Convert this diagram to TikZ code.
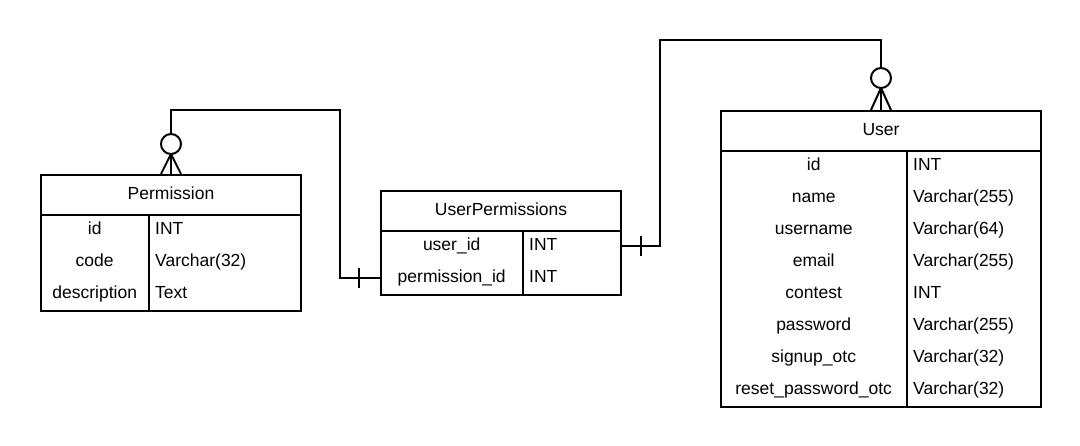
\documentclass[tikz,border=0pt]{standalone}
\usepackage{fontspec}
\setmainfont{Liberation Sans}
\begin{document}
\begin{tikzpicture}[x=1pt,y=-1pt,
  font=\fontsize{17.5}{21}\selectfont,
  ln/.style={line width=2pt, draw=black},
  txt/.style={text height=12.5pt, text depth=4pt},
  hdr/.style={ln, txt, anchor=north west, inner sep=0pt, minimum height=40pt},
  tbody/.style={ln, anchor=north west, inner sep=0pt},
  nm/.style={txt, anchor=north west, inner sep=0pt, minimum height=32pt},
  ty/.style={txt, anchor=north west, inner xsep=6pt, inner ysep=0pt, minimum height=32pt, align=left}]
\useasboundingbox[fill=white] (0,0) rectangle (1080,446);

% ---------- Permission ----------
\node[hdr, minimum width=260pt] (perm) at (40,174) {Permission};
\node[tbody, minimum width=260pt, minimum height=96pt] (permb) at (40,214) {};
\draw[ln] ([xshift=109pt]permb.north west) -- ([xshift=109pt]permb.south west);
\node[nm, minimum width=109pt] (perm-id) at (40,214) {id};
\node[nm, minimum width=109pt] (perm-code) at (40,246) {code};
\node[nm, minimum width=109pt] (perm-desc) at (40,278) {description};
\node[ty, text width=139pt] (perm-id-t) at (149,214) {INT};
\node[ty, text width=139pt] (perm-code-t) at (149,246) {Varchar(32)};
\node[ty, text width=139pt] (perm-desc-t) at (149,278) {Text};

% ---------- UserPermissions ----------
\node[hdr, minimum width=240pt] (up) at (380,190) {UserPermissions};
\node[tbody, minimum width=240pt, minimum height=64pt] (upb) at (380,230) {};
\draw[ln] ([xshift=143pt]upb.north west) -- ([xshift=143pt]upb.south west);
\node[nm, minimum width=143pt] (up-uid) at (380,230) {user\_id};
\node[nm, minimum width=143pt] (up-pid) at (380,262) {permission\_id};
\node[ty, text width=85pt] (up-uid-t) at (523,230) {INT};
\node[ty, text width=85pt] (up-pid-t) at (523,262) {INT};

% ---------- User ----------
\node[hdr, minimum width=320pt] (user) at (720,110) {User};
\node[tbody, minimum width=320pt, minimum height=256pt] (userb) at (720,150) {};
\draw[ln] ([xshift=187pt]userb.north west) -- ([xshift=187pt]userb.south west);
\node[nm, minimum width=187pt] (u-id) at (720,150) {id};
\node[nm, minimum width=187pt] (u-name) at (720,182) {name};
\node[nm, minimum width=187pt] (u-uname) at (720,214) {username};
\node[nm, minimum width=187pt] (u-email) at (720,246) {email};
\node[nm, minimum width=187pt] (u-contest) at (720,278) {contest};
\node[nm, minimum width=187pt] (u-pass) at (720,310) {password};
\node[nm, minimum width=187pt] (u-sotc) at (720,342) {signup\_otc};
\node[nm, minimum width=187pt] (u-rotc) at (720,374) {reset\_password\_otc};
\node[ty, text width=121pt] (u-id-t) at (907,150) {INT};
\node[ty, text width=121pt] (u-name-t) at (907,182) {Varchar(255)};
\node[ty, text width=121pt] (u-uname-t) at (907,214) {Varchar(64)};
\node[ty, text width=121pt] (u-email-t) at (907,246) {Varchar(255)};
\node[ty, text width=121pt] (u-contest-t) at (907,278) {INT};
\node[ty, text width=121pt] (u-pass-t) at (907,310) {Varchar(255)};
\node[ty, text width=121pt] (u-sotc-t) at (907,342) {Varchar(32)};
\node[ty, text width=121pt] (u-rotc-t) at (907,374) {Varchar(32)};

% ---------- Connectors ----------
\coordinate (bend1) at (340,110);
\draw[ln] (perm.north) |- (bend1) |- (up-pid.west);
\coordinate (bend2) at (660,40);
\draw[ln] (up-uid-t.east) -| (bend2) -| (user.north);

% zero-to-many at Permission
\draw[ln] ([xshift=-10pt]perm.north) -- ([yshift=20pt]perm.north) -- ([xshift=10pt]perm.north);
\draw[ln, fill=white] ([yshift=30pt]perm.north) circle[radius=10pt];
% zero-to-many at User
\draw[ln] ([xshift=-10pt]user.north) -- ([yshift=22pt]user.north) -- ([xshift=10pt]user.north);
\draw[ln, fill=white] ([yshift=32pt]user.north) circle[radius=10pt];
% one ticks at UserPermissions
\draw[ln] ([xshift=-21pt,yshift=10pt]up-pid.west) -- ([xshift=-21pt,yshift=-10pt]up-pid.west);
\draw[ln] ([xshift=21pt,yshift=10pt]up-uid-t.east) -- ([xshift=21pt,yshift=-10pt]up-uid-t.east);
\end{tikzpicture}
\end{document}
